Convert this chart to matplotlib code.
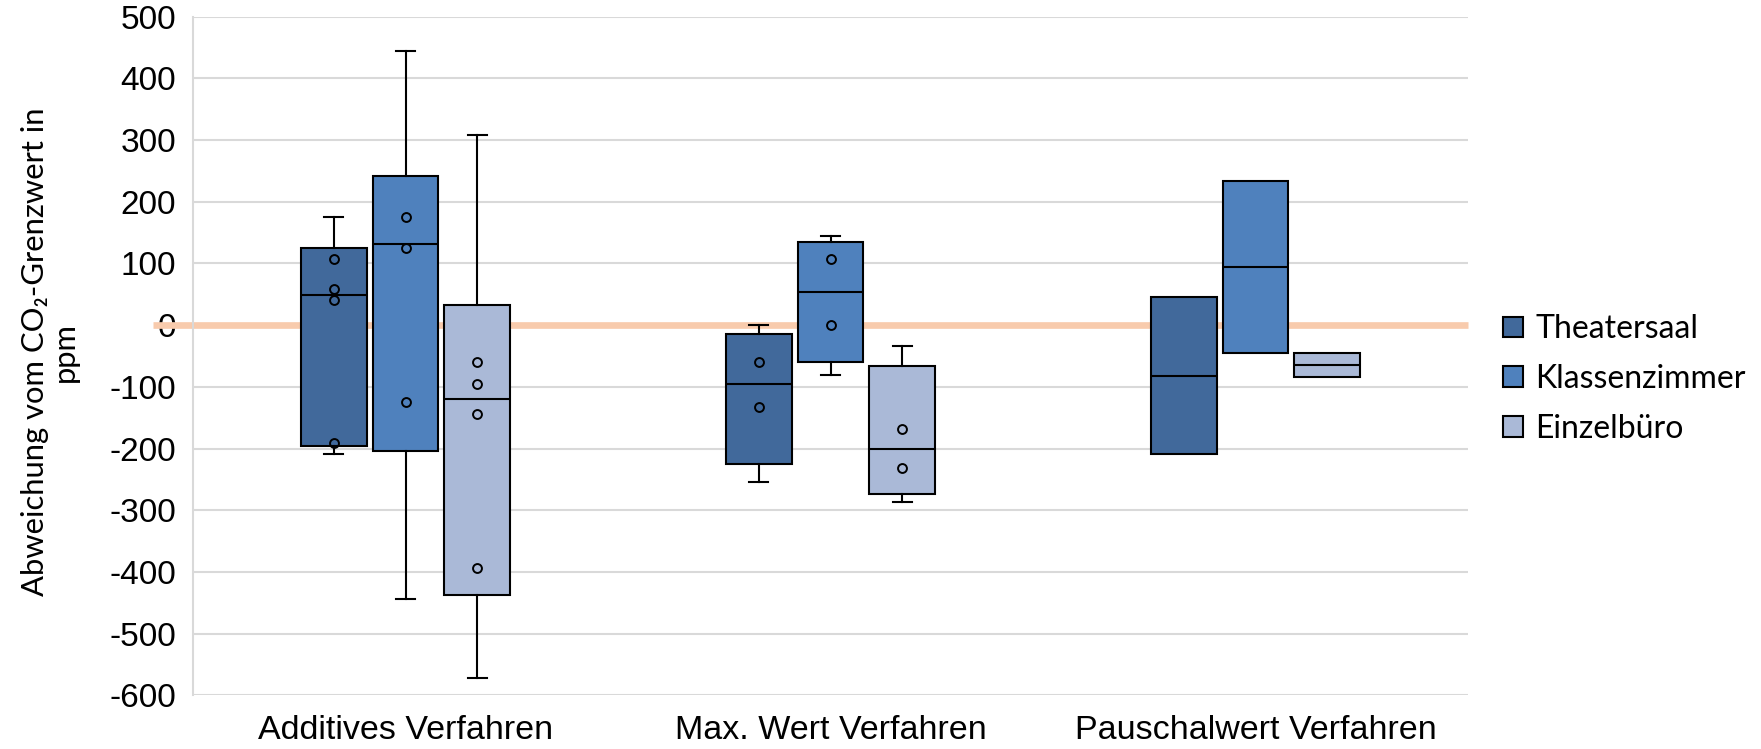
import matplotlib
matplotlib.use("Agg")
import matplotlib.pyplot as plt
from matplotlib.patches import Patch

categories = ["Additives Verfahren", "Max. Wert Verfahren", "Pauschalwert Verfahren"]
series = ["Theatersaal", "Klassenzimmer", "Einzelbüro"]
colors = ["#41699B", "#4F81BD", "#AAB9D7"]

# Theatersaal
theater_lo = [-209, -255, None]
theater_q1 = [-196, -225, -209]
theater_med = [49, -96, -82]
theater_q3 = [125, -15, 45]
theater_hi = [175, 0, None]
theater_pts = [[108, 58, 40, -191], [-60, -132], []]

# Klassenzimmer
klassen_lo = [-444, -80, None]
klassen_q1 = [-204, -60, -45]
klassen_med = [131, 54, 94]
klassen_q3 = [242, 135, 233]
klassen_hi = [444, 145, None]
klassen_pts = [[175, 125, -125], [108, 0], []]

# Einzelbüro
einzel_lo = [-572, -287, None]
einzel_q1 = [-438, -273, -84]
einzel_med = [-120, -200, -65]
einzel_q3 = [33, -67, -45]
einzel_hi = [309, -33, None]
einzel_pts = [[-60, -95, -144, -394], [-169, -232], []]

yticks = list(range(-600, 501, 100))

data = [
    (theater_lo, theater_q1, theater_med, theater_q3, theater_hi, theater_pts),
    (klassen_lo, klassen_q1, klassen_med, klassen_q3, klassen_hi, klassen_pts),
    (einzel_lo, einzel_q1, einzel_med, einzel_q3, einzel_hi, einzel_pts),
]

DPI = 100
fig = plt.figure(figsize=(17.61, 7.49), dpi=DPI)
ax = fig.add_axes([193 / 1761, 1 - 695.3 / 749, (1468 - 193) / 1761, (695.3 - 16.7) / 749])

offset = 0.169
bw = 0.155
capw = 0.045
lw = 1.5

ax.plot([-0.594, 2.5], [0, 0], color="#F8CBAD", lw=4.8, zorder=1.5,
        clip_on=False, solid_capstyle="butt")

for j, (lo, q1, med, q3, hi, pts) in enumerate(data):
    for i in range(len(categories)):
        pos = i + (j - 1) * offset
        has_wh = lo[i] is not None
        st = dict(med=med[i], q1=q1[i], q3=q3[i],
                  whislo=lo[i] if has_wh else q1[i],
                  whishi=hi[i] if has_wh else q3[i], fliers=[])
        ax.bxp([st], positions=[pos], widths=bw, patch_artist=True,
               showcaps=has_wh, capwidths=capw,
               boxprops=dict(facecolor=colors[j], edgecolor="black", linewidth=lw),
               medianprops=dict(color="black", linewidth=lw),
               whiskerprops=dict(color="black", linewidth=lw),
               capprops=dict(color="black", linewidth=lw),
               zorder=3)
        if pts[i]:
            ax.plot([pos] * len(pts[i]), pts[i], linestyle="none", marker="o",
                    markersize=6.4, markerfacecolor="none", markeredgecolor="black",
                    markeredgewidth=1.4, zorder=4)

ax.set_xlim(-0.5, 2.5)
ax.set_ylim(-600, 500)
ax.set_yticks(yticks)
ax.set_yticklabels([str(v) for v in yticks], fontsize=24, family="Liberation Sans")
ax.set_xticks(range(len(categories)))
ax.set_xticklabels(categories, fontsize=24.5, family="Liberation Sans")
ax.tick_params(axis="both", length=0)
ax.tick_params(axis="y", pad=12)
ax.tick_params(axis="x", pad=14)
ax.grid(axis="y", color="#D9D9D9", linewidth=1.5, zorder=0)
ax.set_axisbelow(True)
for s in ["top", "right", "bottom"]:
    ax.spines[s].set_visible(False)
ax.spines["left"].set_color("#D9D9D9")
ax.spines["left"].set_linewidth(1.5)

fig.text(50 / 1761, 1 - 352 / 749, "Abweichung vom CO\u2082-Grenzwert in\nppm",
         rotation=90, ha="center", va="center", fontsize=22.3,
         family=["Lato", "DejaVu Sans"], linespacing=1.05, multialignment="center")

handles = [Patch(facecolor=c, edgecolor="black", linewidth=1.5) for c in colors]
fig.legend(handles, series, loc="center left", bbox_to_anchor=(1503 / 1761, 1 - 379 / 749),
           frameon=False, prop=dict(family="Lato", size=23), handlelength=0.62,
           handleheight=0.62, handletextpad=0.4, labelspacing=0.62, borderpad=0,
           borderaxespad=0)

fig.savefig("out.png", dpi=DPI)
